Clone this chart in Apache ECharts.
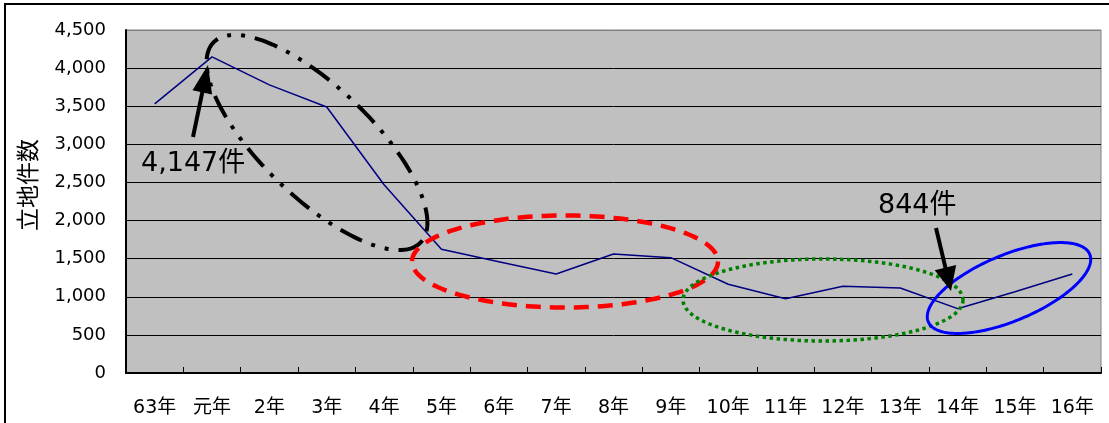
<!DOCTYPE html>
<html><head><meta charset="utf-8">
<script src="https://cdn.jsdelivr.net/npm/echarts@6/dist/echarts.min.js"></script>
<style>html,body{margin:0;padding:0;background:#fff;overflow:hidden}#c{width:1109px;height:423px}</style>
</head><body><div id="c"></div>
<script>
// ---- data ----
const categories = ['63年','元年','2年','3年','4年','5年','6年','7年','8年','9年','10年','11年','12年','13年','14年','15年','16年'];
const counts = [3530, 4147, 3780, 3490, 2470, 1623, 1460, 1299, 1561, 1513, 1164, 975, 1137, 1115, 844, 1067, 1299];
const yTicks = [0, 500, 1000, 1500, 2000, 2500, 3000, 3500, 4000, 4500];
const axisTitle = '立地件数';
const calloutPeak = '4,147件';
const calloutLow = '844件';

const NUM_FONT = '"DejaVu Sans","Noto Sans CJK JP",sans-serif';

const chart = echarts.init(document.getElementById('c'), null, {renderer: 'canvas'});

function ellipsePts(cx, cy, a, b, deg) {
  const r = deg * Math.PI / 180, pts = [];
  for (let i = 0; i < 180; i++) {
    const t = 2 * Math.PI * i / 180;
    const x = a * Math.cos(t), y = b * Math.sin(t);
    pts.push([cx + x * Math.cos(r) - y * Math.sin(r), cy + x * Math.sin(r) + y * Math.cos(r)]);
  }
  return pts;
}
function ellipse(cx, cy, a, b, deg, stroke, lw, dash) {
  return {type: 'polygon', z: 100, silent: true,
    shape: {points: ellipsePts(cx, cy, a, b, deg)},
    style: {fill: 'none', stroke: stroke, lineWidth: lw, lineDash: dash || null, lineCap: 'butt'}};
}
function arrow(x0, y0, x1, y1, headLen, headW, lw) {
  const dx = x1 - x0, dy = y1 - y0, L = Math.hypot(dx, dy);
  const ux = dx / L, uy = dy / L, px = -uy, py = ux;
  const bx = x1 - ux * headLen, by = y1 - uy * headLen;
  return [
    {type: 'line', z: 110, silent: true, shape: {x1: x0, y1: y0, x2: bx + ux * 2, y2: by + uy * 2},
      style: {stroke: '#000', lineWidth: lw}},
    {type: 'polygon', z: 110, silent: true,
      shape: {points: [[x1, y1], [bx + px * headW / 2, by + py * headW / 2], [bx - px * headW / 2, by - py * headW / 2]]},
      style: {fill: '#000'}}
  ];
}

const gridColors = yTicks.map((v, i) => i === yTicks.length - 1 ? '#808080' : '#000000');

const graphics = [
  {type: 'rect', z: -10, silent: true, shape: {x: 5, y: 4, width: 1300, height: 700},
    style: {fill: 'none', stroke: '#000', lineWidth: 2}},
  {type: 'text', silent: true, x: 27, y: 185, rotation: Math.PI / 2,
    style: {text: axisTitle, x: 0, y: 0, align: 'center', verticalAlign: 'middle',
      fontSize: 23, fontFamily: '"Noto Sans CJK JP",sans-serif', fill: '#000'}},
  ellipse(317, 142.5, 144, 55, 44, '#000000', 4, [24, 10, 4, 10, 4, 10]),
  ellipse(565, 261.5, 153, 46, 0, '#FF0000', 4.5, [15, 9]),
  ellipse(823, 300, 140, 41, 0, '#008000', 3.5, [3.5, 3.5]),
  ellipse(1009, 288, 87.5, 33, -22.7, '#0000FF', 3, null),
  ...arrow(193, 137, 208, 65, 28, 20, 4),
  ...arrow(936, 228, 951, 291, 24, 22, 4),
  {type: 'text', silent: true, z: 120,
    style: {text: calloutPeak, x: 141, y: 164, align: 'left', verticalAlign: 'middle',
      fontSize: 27, fontFamily: NUM_FONT, fill: '#000'}},
  {type: 'text', silent: true, z: 120,
    style: {text: calloutLow, x: 878, y: 206, align: 'left', verticalAlign: 'middle',
      fontSize: 27, fontFamily: NUM_FONT, fill: '#000'}}
];

chart.setOption({
  animation: false,
  backgroundColor: '#ffffff',
  grid: {left: 126, top: 30, right: 8, bottom: 50, show: true,
    backgroundColor: '#C0C0C0', borderColor: '#808080', borderWidth: 1},
  xAxis: {
    type: 'category', data: categories, boundaryGap: true,
    axisLine: {lineStyle: {color: '#000', width: 2}},
    axisTick: {show: true, inside: true, length: 6, lineStyle: {color: '#000'}},
    axisLabel: {color: '#000', fontSize: 19, fontFamily: NUM_FONT, margin: 26, interval: 0}
  },
  yAxis: {
    type: 'value', min: yTicks[0], max: yTicks[yTicks.length - 1], interval: yTicks[1] - yTicks[0],
    axisLine: {show: true, lineStyle: {color: '#000', width: 2}},
    axisTick: {show: false},
    splitLine: {show: true, lineStyle: {color: gridColors, width: 1}},
    axisLabel: {color: '#000', fontSize: 18, fontFamily: NUM_FONT, margin: 20, padding: [8, 0, 0, 0],
      formatter: v => v.toLocaleString('en-US')}
  },
  series: [{
    type: 'line', data: counts, symbol: 'none', smooth: false,
    lineStyle: {color: '#000080', width: 1.5}, z: 5
  }],
  graphic: graphics
});
</script></body></html>
